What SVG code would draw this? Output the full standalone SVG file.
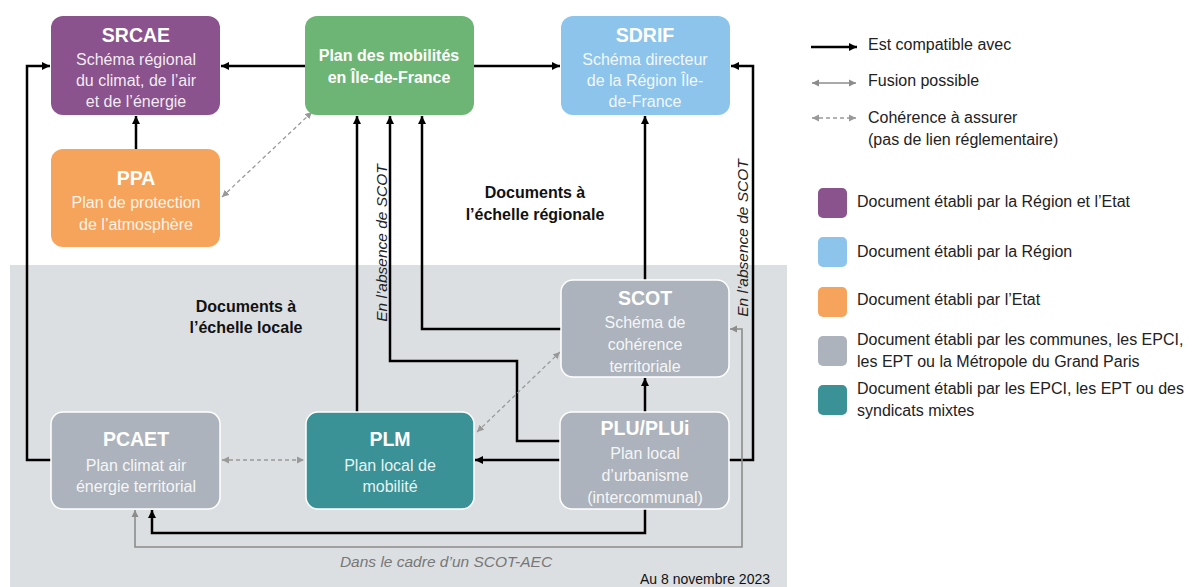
<svg xmlns="http://www.w3.org/2000/svg" width="1192" height="587" viewBox="0 0 1192 587">
<style>
text{font-family:"Liberation Sans",Arial,sans-serif}
.t{font-weight:bold;font-size:19.5px;fill:#fff;text-anchor:middle}
.s{font-size:16px;fill:#fff;fill-opacity:0.9;text-anchor:middle}
.sb{font-weight:bold;font-size:16px;fill:#fff;text-anchor:middle}
.lab{font-size:16px;fill:#222}
.hd{font-weight:bold;font-size:16px;fill:#111;text-anchor:middle}
.it{font-style:italic;font-size:15.5px;fill:#222;text-anchor:middle}
.blk{fill:none;stroke:#000;stroke-width:2.5;marker-end:url(#ab)}
.gry{fill:none;stroke:#8c8c8c;stroke-width:1.6;marker-end:url(#ag);marker-start:url(#ag)}
.dsh{fill:none;stroke:#999;stroke-width:1.3;stroke-dasharray:4 3;marker-end:url(#ad);marker-start:url(#ad)}
.node{stroke:#fff;stroke-width:1.5}
</style>
<defs>
<marker id="ab" markerUnits="userSpaceOnUse" markerWidth="9" markerHeight="9" refX="8" refY="4.5" orient="auto-start-reverse"><path d="M0,0.5 L8,4.5 L0,8.5 z" fill="#000"/></marker>
<marker id="ag" markerUnits="userSpaceOnUse" markerWidth="8" markerHeight="8" refX="7" refY="4" orient="auto-start-reverse"><path d="M0,0.5 L7,4 L0,7.5 z" fill="#8c8c8c"/></marker>
<marker id="ad" markerUnits="userSpaceOnUse" markerWidth="8" markerHeight="8" refX="7" refY="4" orient="auto-start-reverse"><path d="M0,0.5 L7,4 L0,7.5 z" fill="#999"/></marker>
</defs>
<rect x="0" y="0" width="1192" height="587" fill="#fff"/>
<rect x="10" y="265" width="777" height="322" fill="#dcdfe2"/>

<g id="connectors">
<polyline class="blk" points="51,460 27,460 27,66 50,66"/>
<line class="blk" x1="136" y1="149" x2="136" y2="116"/>
<line class="blk" x1="305" y1="66" x2="221" y2="66"/>
<line class="blk" x1="474" y1="66" x2="560" y2="66"/>
<line class="dsh" x1="222" y1="197" x2="312" y2="112"/>
<line class="blk" x1="357" y1="412" x2="357" y2="116"/>
<polyline class="blk" points="560,441 517,441 517,361 390,361 390,116"/>
<polyline class="blk" points="561,329 422,329 422,116"/>
<line class="blk" x1="645" y1="280" x2="645" y2="116"/>
<line class="blk" x1="645" y1="412" x2="645" y2="378"/>
<polyline class="blk" points="729,460 753,460 753,66 731,66"/>
<polyline class="gry" points="135,510 135,547 742,547 742,329 730,329"/>
<polyline class="blk" points="645,509 645,533 152,533 152,510"/>
<line class="blk" x1="560" y1="460" x2="475" y2="460"/>
<line class="dsh" x1="222" y1="460" x2="304" y2="460"/>
<line class="dsh" x1="477" y1="432" x2="560" y2="352"/>
</g>

<g id="SRCAE">
<rect x="51" y="16" width="169" height="99" rx="12" fill="#8b538d"/>
<text class="t" x="136" y="42">SRCAE</text>
<text class="s" x="136" y="65">Schéma régional</text>
<text class="s" x="136" y="86">du climat, de l’air</text>
<text class="s" x="136" y="107">et de l’énergie</text>
</g>
<g id="PPA">
<rect x="51" y="149" width="169" height="98" rx="12" fill="#f6a45c"/>
<text class="t" x="136" y="185">PPA</text>
<text class="s" x="136" y="208">Plan de protection</text>
<text class="s" x="136" y="230">de l’atmosphère</text>
</g>
<g id="PDUIF">
<rect x="305" y="16" width="169" height="99" rx="12" fill="#6db574"/>
<text class="sb" x="389" y="61">Plan des mobilités</text>
<text class="sb" x="389" y="83">en Île-de-France</text>
</g>
<g id="SDRIF">
<rect x="561" y="16" width="169" height="99" rx="12" fill="#8dc4eb"/>
<text class="t" x="645" y="42">SDRIF</text>
<text class="s" x="645" y="65">Schéma directeur</text>
<text class="s" x="645" y="86">de la Région Île-</text>
<text class="s" x="645" y="107">de-France</text>
</g>
<g id="SCOT">
<rect class="node" x="561" y="280" width="168" height="97" rx="12" fill="#adb3bc"/>
<text class="t" x="645" y="305">SCOT</text>
<text class="s" x="645" y="328">Schéma de</text>
<text class="s" x="645" y="350">cohérence</text>
<text class="s" x="645" y="372">territoriale</text>
</g>
<g id="PCAET">
<rect class="node" x="51" y="412" width="169" height="97" rx="12" fill="#adb3bc"/>
<text class="t" x="136" y="446">PCAET</text>
<text class="s" x="136" y="471">Plan climat air</text>
<text class="s" x="136" y="492">énergie territorial</text>
</g>
<g id="PLM">
<rect class="node" x="306" y="412" width="168" height="97" rx="12" fill="#3a9297"/>
<text class="t" x="390" y="446">PLM</text>
<text class="s" x="390" y="471">Plan local de</text>
<text class="s" x="390" y="492">mobilité</text>
</g>
<g id="PLU">
<rect class="node" x="560" y="412" width="169" height="97" rx="12" fill="#adb3bc"/>
<text class="t" x="645" y="435">PLU/PLUi</text>
<text class="s" x="645" y="459">Plan local</text>
<text class="s" x="645" y="481">d’urbanisme</text>
<text class="s" x="645" y="503">(intercommunal)</text>
</g>

<g id="labels">
<text class="hd" x="535" y="198">Documents à</text>
<text class="hd" x="535" y="220">l’échelle régionale</text>
<text class="hd" x="246" y="312">Documents à</text>
<text class="hd" x="246" y="333">l’échelle locale</text>
<text class="it" transform="translate(387,243) rotate(-90)">En l’absence de SCOT</text>
<text class="it" transform="translate(748,238) rotate(-90)">En l’absence de SCOT</text>
<text class="it" x="446" y="567" style="fill:#777">Dans le cadre d’un SCOT-AEC</text>
<text x="770" y="584" style="font-size:14px;fill:#111;text-anchor:end">Au 8 novembre 2023</text>
</g>

<g id="legend">
<line class="blk" x1="811" y1="47" x2="857" y2="47"/>
<text class="lab" x="868" y="50">Est compatible avec</text>
<line class="gry" x1="812" y1="83" x2="856" y2="83"/>
<text class="lab" x="868" y="86">Fusion possible</text>
<line class="dsh" x1="812" y1="118" x2="856" y2="118"/>
<text class="lab" x="868" y="123">Cohérence à assurer</text>
<text class="lab" x="868" y="145">(pas de lien réglementaire)</text>
<rect x="818" y="188" width="29" height="30" rx="5" fill="#8b538d"/>
<text class="lab" x="857" y="207">Document établi par la Région et l’Etat</text>
<rect x="818" y="237" width="29" height="30" rx="5" fill="#8dc4eb"/>
<text class="lab" x="857" y="257">Document établi par la Région</text>
<rect x="818" y="287" width="29" height="30" rx="5" fill="#f6a45c"/>
<text class="lab" x="857" y="305">Document établi par l’Etat</text>
<rect x="818" y="336" width="29" height="30" rx="5" fill="#adb3bc"/>
<text class="lab" x="857" y="345">Document établi par les communes, les EPCI,</text>
<text class="lab" x="857" y="367">les EPT ou la Métropole du Grand Paris</text>
<rect x="818" y="385" width="29" height="30" rx="5" fill="#3a9297"/>
<text class="lab" x="857" y="394">Document établi par les EPCI, les EPT ou des</text>
<text class="lab" x="857" y="416">syndicats mixtes</text>
</g>
</svg>
